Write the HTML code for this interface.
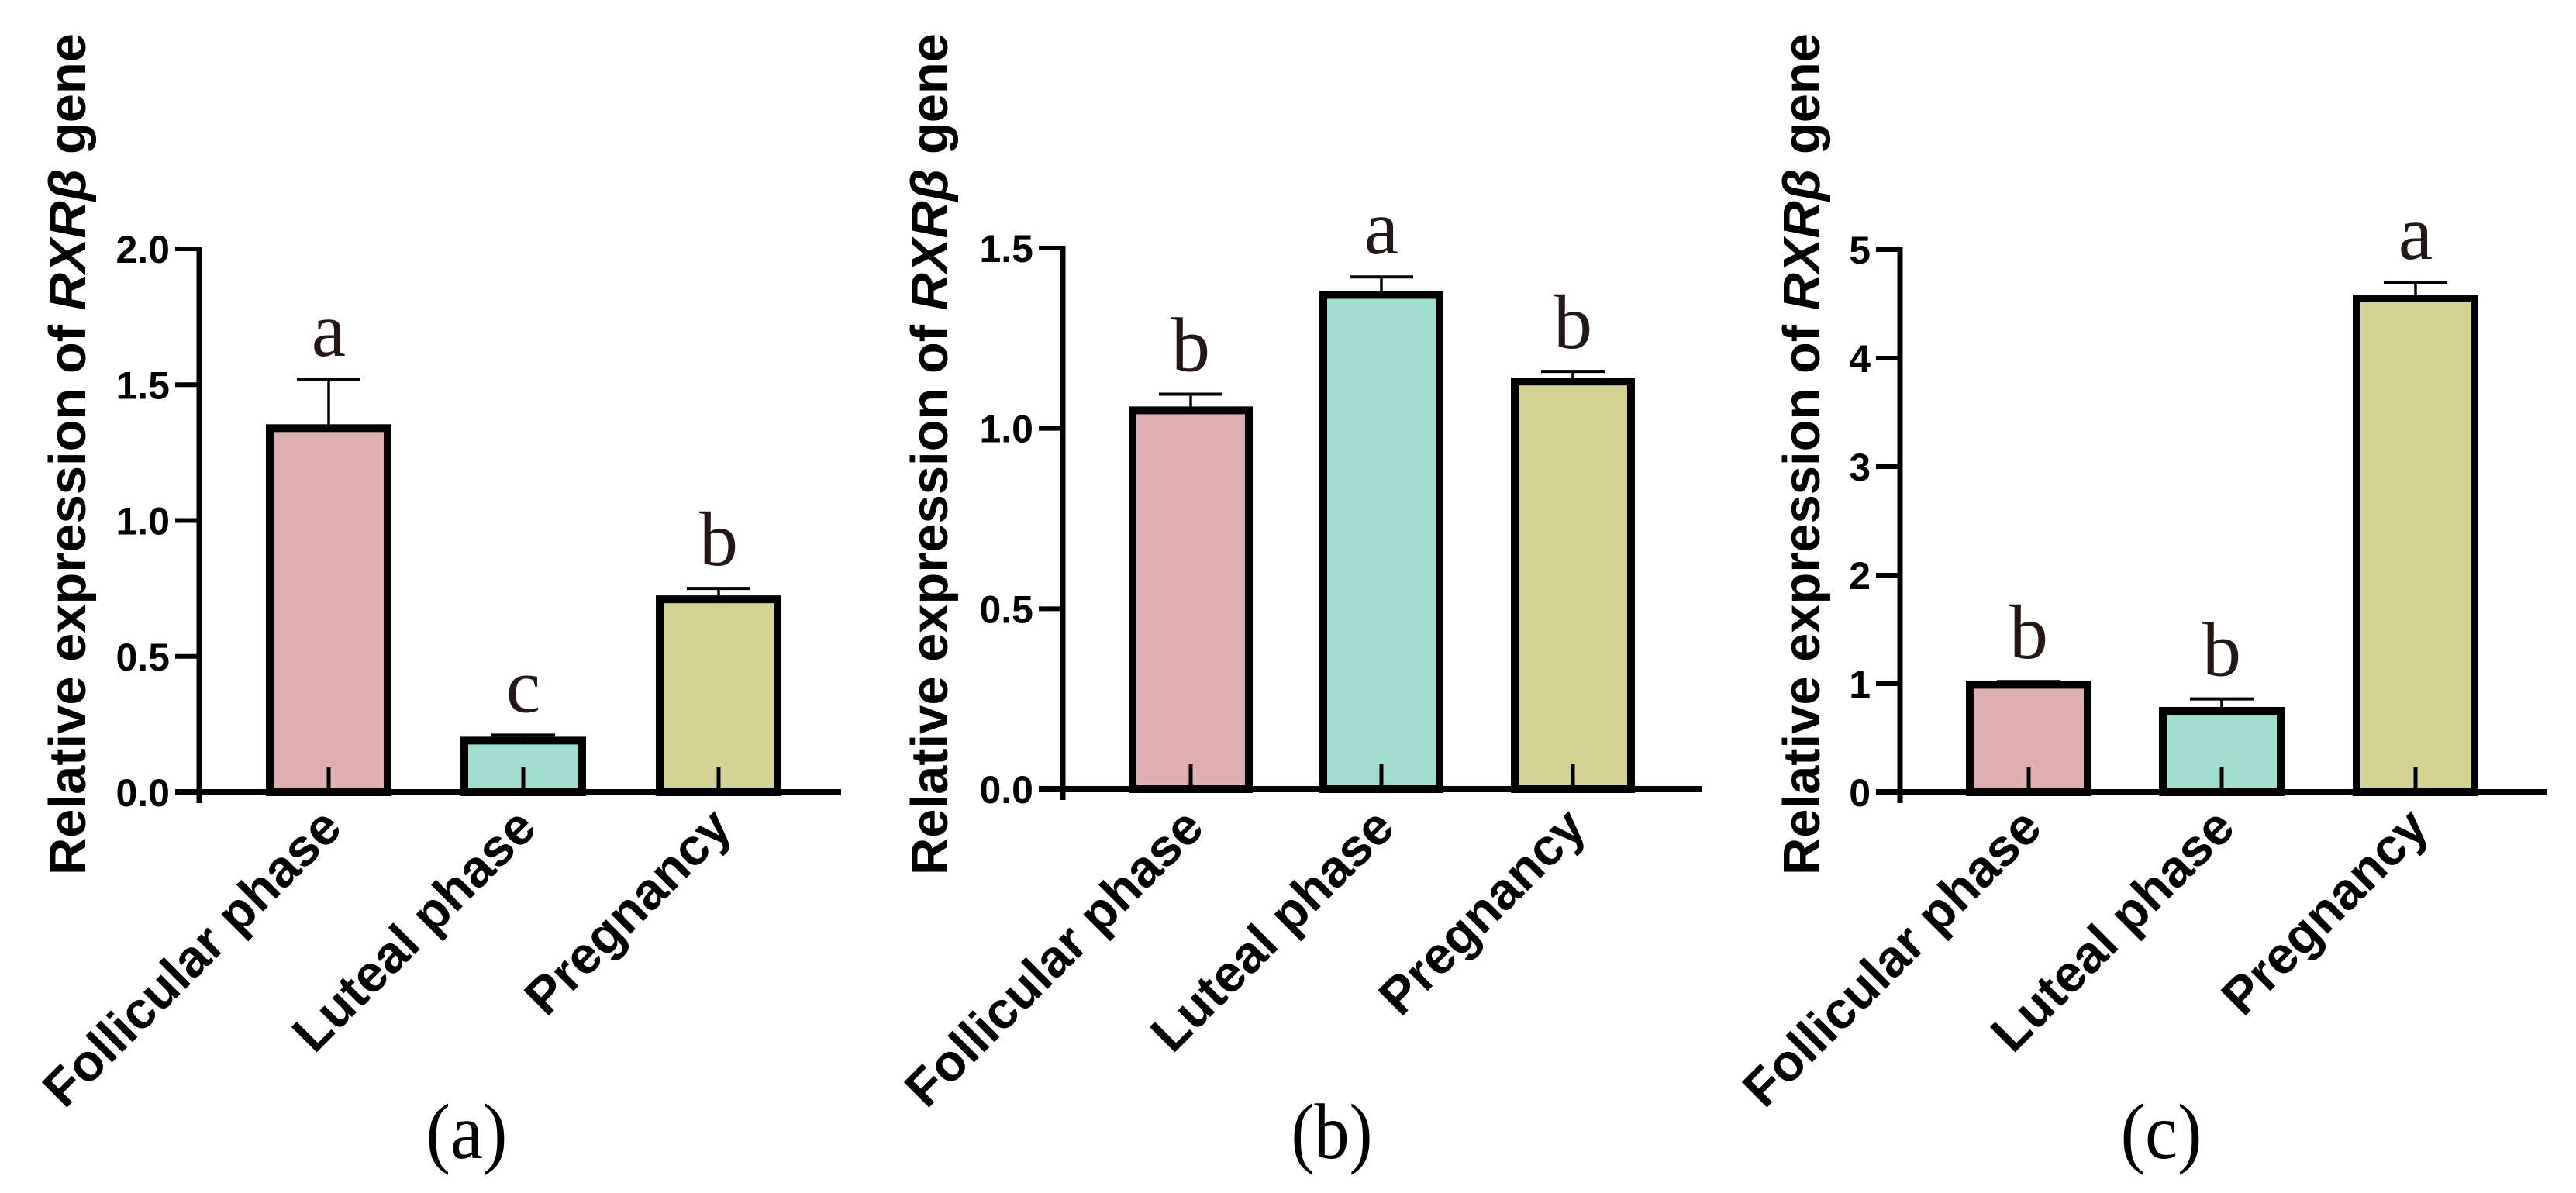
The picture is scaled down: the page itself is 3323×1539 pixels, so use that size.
<!DOCTYPE html>
<html><head><meta charset="utf-8"><style>
html,body{margin:0;padding:0;background:#fff;}
svg{display:block;}
</style></head><body>
<svg id="fig" width="3323" height="1539" viewBox="0 0 3323 1539" xmlns="http://www.w3.org/2000/svg"></svg>
<script>
const categories = ["Follicular phase", "Luteal phase", "Pregnancy"];
const valuesA = [1.34, 0.19, 0.71];
const errorsA = [0.18, 0.02, 0.04];
const lettersA = ["a", "c", "b"];
const ticksA = [0, 0.5, 1.0, 1.5, 2.0];
const tickLabelsA = ["0.0", "0.5", "1.0", "1.5", "2.0"];
const valuesB = [1.05, 1.37, 1.13];
const errorsB = [0.045, 0.05, 0.028];
const lettersB = ["b", "a", "b"];
const ticksB = [0, 0.5, 1.0, 1.5];
const tickLabelsB = ["0.0", "0.5", "1.0", "1.5"];
const valuesC = [0.99, 0.75, 4.55];
const errorsC = [0.03, 0.11, 0.15];
const lettersC = ["b", "b", "a"];
const ticksC = [0, 1, 2, 3, 4, 5];
const tickLabelsC = ["0", "1", "2", "3", "4", "5"];
const colors = ["#e0afb1", "#a2ded0", "#d3d396"];

const NS = "http://www.w3.org/2000/svg";
const svg = document.getElementById("fig");
function mk(tag, attrs, parent) {
  const e = document.createElementNS(NS, tag);
  for (const k in attrs) e.setAttribute(k, attrs[k]);
  (parent || svg).appendChild(e);
  return e;
}

const panels = [
  {id:"a", vals:valuesA, errs:errorsA, letters:lettersA, ticks:ticksA, tl:tickLabelsA, max:2.0,
   axisX:257, axisEnd:1085, top:321, bottom:1022, centers:[424,675,927], bw:162, titleX:110, caption:602},
  {id:"b", vals:valuesB, errs:errorsB, letters:lettersB, ticks:ticksB, tl:tickLabelsB, max:1.5,
   axisX:1371, axisEnd:2196, top:320, bottom:1018, centers:[1536,1782,2029], bw:160, titleX:1222, caption:1718},
  {id:"c", vals:valuesC, errs:errorsC, letters:lettersC, ticks:ticksC, tl:tickLabelsC, max:5,
   axisX:2451, axisEnd:3286, top:322, bottom:1022, centers:[2617,2866,3116], bw:162, titleX:2347, caption:2788}
];

panels.forEach(p => {
  const g = mk("g", {});
  
  
  const y = v => p.bottom - (v / p.max) * (p.bottom - p.top);

  p.vals.forEach((v, i) => {
    const cx = p.centers[i];
    const yt = y(v);
    const bar = mk("rect", {x: cx - p.bw/2 + 5, y: yt, width: p.bw - 10, height: p.bottom - yt,
      fill: colors[i], stroke: "#000", "stroke-width": 10}, g);
    
    
    const mark = mk("line", {x1: cx, x2: cx, y1: p.bottom, y2: p.bottom - 32, stroke: "#000", "stroke-width": 5}, g);
    
    
    const ye = y(v + p.errs[i]);
    const ev = mk("line", {x1: cx, x2: cx, y1: yt - 5, y2: ye, stroke: "#000", "stroke-width": 3.5}, g);
    
    
    const ec = mk("line", {x1: cx - 41, x2: cx + 41, y1: ye, y2: ye, stroke: "#000", "stroke-width": 4}, g);
    
    
    const lt = mk("text", {x: cx, y: ye - 30, "text-anchor": "middle",
      "font-family": "Liberation Serif, serif", "font-size": 100, fill: "#231815"}, g);
    lt.textContent = p.letters[i];
    
    
    const ax = cx + 20, ay = 1071;
    const cl = mk("text", {x: ax, y: ay, "text-anchor": "end", transform: `rotate(-45 ${ax} ${ay})`,
      "font-family": "Liberation Sans, Arial, sans-serif", "font-weight": "bold", "font-size": 67, fill: "#000"}, g);
    cl.textContent = categories[i];
    
    
  });

  const ya = mk("line", {x1: p.axisX, x2: p.axisX, y1: p.top - 3, y2: p.bottom + 14, stroke: "#000", "stroke-width": 7}, g);
  
  
  const xa = mk("line", {x1: p.axisX - 31, x2: p.axisEnd, y1: p.bottom, y2: p.bottom, stroke: "#000", "stroke-width": 8}, g);
  
  
  p.ticks.forEach((t, i) => {
    const ty = y(t);
    const tk = mk("line", {x1: p.axisX - 31, x2: p.axisX, y1: ty, y2: ty, stroke: "#000", "stroke-width": 6}, g);
    
    
    const tl = mk("text", {x: p.axisX - 38, y: ty + 18, "text-anchor": "end",
      "font-family": "Liberation Sans, Arial, sans-serif", "font-weight": "bold", "font-size": 50, fill: "#000"}, g);
    tl.textContent = p.tl[i];
    
    
  });

  const cy = 586;
  const tt = mk("text", {x: p.titleX, y: cy, "text-anchor": "middle", transform: `rotate(-90 ${p.titleX} ${cy})`,
    "font-family": "Liberation Sans, Arial, sans-serif", "font-weight": "bold", "font-size": 67, fill: "#000",
    textLength: 1086, lengthAdjust: "spacingAndGlyphs"}, g);
  
  
  tt.appendChild(document.createTextNode("Relative expression of "));
  const ts = mk("tspan", {"font-style": "italic"}, tt);
  ts.textContent = "RXRβ";
  tt.appendChild(document.createTextNode(" gene"));

  const cap = mk("text", {x: p.caption, y: 1494, "text-anchor": "middle",
    "font-family": "Liberation Serif, serif", "font-size": 102, fill: "#000",
    textLength: 105, lengthAdjust: "spacingAndGlyphs"}, g);
  cap.textContent = "(" + p.id + ")";
  
  
});
</script>
</body></html>
